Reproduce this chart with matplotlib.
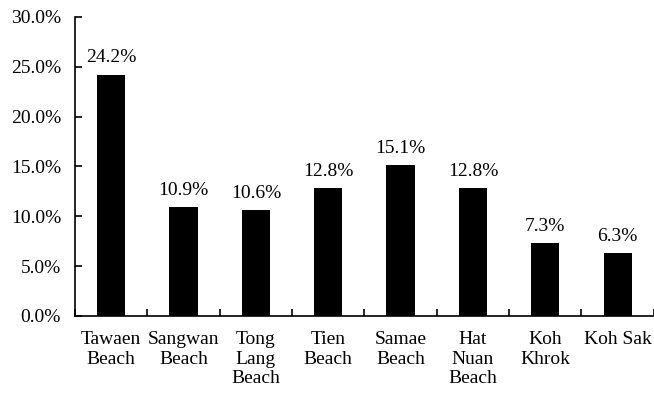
import numpy as np
import matplotlib.pyplot as plt
from matplotlib.ticker import PercentFormatter

plt.rcParams['font.family'] = ['Liberation Serif', 'DejaVu Serif']

beaches = ['Tawaen\nBeach', 'Sangwan\nBeach', 'Tong\nLang\nBeach', 'Tien\nBeach',
           'Samae\nBeach', 'Hat\nNuan\nBeach', 'Koh\nKhrok', 'Koh Sak']
share = [24.2, 10.9, 10.6, 12.8, 15.1, 12.8, 7.3, 6.3]

fig = plt.figure(figsize=(6.54, 3.93), dpi=100)
ax = fig.add_axes([0.1147, 0.196, 0.885, 0.761])

x = np.arange(len(beaches))
bars = ax.bar(x, share, width=0.39, color='black')

for b, v in zip(bars, share):
    ax.annotate(f'{v:.1f}%', (b.get_x() + b.get_width() / 2, v),
                xytext=(0, 6), textcoords='offset points',
                ha='center', va='bottom', fontsize=14)

ax.set_xlim(-0.5, len(beaches) - 0.5)
ax.set_ylim(0, 30)
ax.set_yticks(np.arange(0, 31, 5))
ax.yaxis.set_major_formatter(PercentFormatter(decimals=1))
ax.tick_params(axis='y', direction='in', length=5, width=1.2, labelsize=14, pad=10)

# category separators as upward ticks on the x axis
ax.set_xticks(np.arange(len(beaches) + 1) - 0.5)
ax.set_xticklabels([])
ax.set_xticks(x, minor=True)
ax.set_xticklabels(beaches, minor=True, fontsize=14, linespacing=1.2)
ax.tick_params(axis='x', which='major', direction='in', length=5, width=1.2)
ax.tick_params(axis='x', which='minor', length=0, pad=11)

for s in ['top', 'right']:
    ax.spines[s].set_visible(False)
for s in ['left', 'bottom']:
    ax.spines[s].set_linewidth(1.2)

fig.savefig('out.png', dpi=100)
